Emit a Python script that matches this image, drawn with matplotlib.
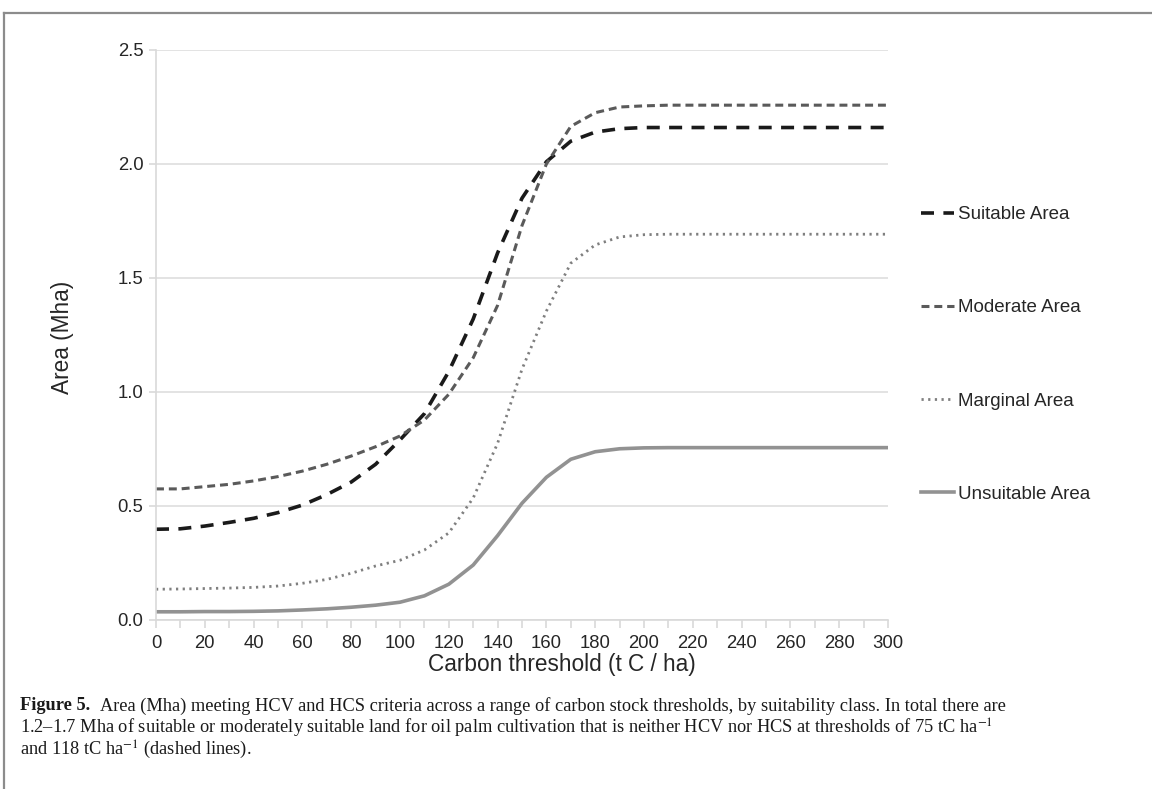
import numpy as np
import matplotlib
matplotlib.use("Agg")
import matplotlib.pyplot as plt
from matplotlib.lines import Line2D

plt.rcParams['font.family'] = ['Liberation Sans', 'DejaVu Sans']
plt.rcParams['mathtext.fontset'] = 'stix'

thresholds = list(range(0, 301, 10))
suitable = [0.398, 0.400, 0.412, 0.428, 0.446, 0.471, 0.504, 0.550, 0.605, 0.683,
            0.790, 0.905, 1.090, 1.320, 1.610, 1.850, 2.010, 2.100, 2.140, 2.155,
            2.160, 2.160, 2.160, 2.160, 2.160, 2.160, 2.160, 2.160, 2.160, 2.160, 2.160]
moderate = [0.575, 0.575, 0.585, 0.595, 0.610, 0.629, 0.653, 0.683, 0.719, 0.760,
            0.807, 0.877, 0.990, 1.150, 1.380, 1.730, 2.000, 2.165, 2.225, 2.250,
            2.255, 2.258, 2.258, 2.258, 2.258, 2.258, 2.258, 2.258, 2.258, 2.258, 2.258]
marginal = [0.135, 0.136, 0.138, 0.140, 0.143, 0.149, 0.161, 0.178, 0.205, 0.237,
            0.262, 0.307, 0.382, 0.535, 0.775, 1.100, 1.355, 1.565, 1.645, 1.680,
            1.690, 1.692, 1.692, 1.692, 1.692, 1.692, 1.692, 1.692, 1.692, 1.692, 1.692]
unsuitable = [0.036, 0.036, 0.037, 0.037, 0.038, 0.040, 0.044, 0.049, 0.056, 0.065,
              0.078, 0.106, 0.157, 0.241, 0.370, 0.512, 0.626, 0.705, 0.738, 0.751,
              0.755, 0.756, 0.756, 0.756, 0.756, 0.756, 0.756, 0.756, 0.756, 0.756, 0.756]
labels = ["Suitable Area", "Moderate Area", "Marginal Area", "Unsuitable Area"]
x_title = "Carbon threshold (t C / ha)"
y_title = "Area (Mha)"
cap_head = "Figure 5."
cap_lines = [
    "Area (Mha) meeting HCV and HCS criteria across a range of carbon stock thresholds, by suitability class. In total there are",
    "1.2\u20131.7 Mha of suitable or moderately suitable land for oil palm cultivation that is neither HCV nor HCS at thresholds of 75 tC ha$^{-1}$",
    "and 118 tC ha$^{-1}$ (dashed lines).",
]

W, H = 1152, 789
fig = plt.figure(figsize=(W / 100, H / 100), dpi=100)
ax = fig.add_axes([156 / W, 1 - 620 / H, (888 - 156) / W, (620 - 50) / H])

ax.plot(thresholds, suitable, color='#1a1a1a', lw=2.6, dashes=(3.6, 2.6), label=labels[0])
ax.plot(thresholds, moderate, color='#5a5a5a', lw=2.2, dashes=(2.6, 1.6), label=labels[1])
ax.plot(thresholds, marginal, color='#7f7f7f', lw=2.0, dashes=(0.8, 1.6), label=labels[2])
ax.plot(thresholds, unsuitable, color='#929292', lw=2.6, label=labels[3])

ax.set_xlim(0, 300)
ax.set_ylim(0, 2.5)
ax.set_xticks(range(0, 301, 20))
ax.set_xticks(range(0, 301, 10), minor=True)
ax.set_yticks([0, 0.5, 1.0, 1.5, 2.0, 2.5])
ax.set_yticklabels(["0.0", "0.5", "1.0", "1.5", "2.0", "2.5"])
ax.grid(axis='y', color='#dedede', lw=1.2)
ax.set_axisbelow(True)
for s in ['top', 'right']:
    ax.spines[s].set_visible(False)
for s in ['left', 'bottom']:
    ax.spines[s].set_color('#d9d9d9')
    ax.spines[s].set_linewidth(1.2)
ax.tick_params(axis='both', which='both', color='#d9d9d9', width=1.2, labelsize=13.3,
               labelcolor='#262626')
ax.tick_params(axis='x', which='both', length=6, pad=5)
ax.tick_params(axis='y', length=5, pad=4)

fig.text(562 / W, 1 - 665 / H, x_title, fontsize=16.3, color='#262626',
         ha='center', va='center')
fig.text(62 / W, 1 - 337 / H, y_title, fontsize=16.3, color='#262626',
         ha='center', va='center', rotation=90)

leg = ax.legend(loc='upper left', bbox_to_anchor=(921 / W, 1 - 206 / H),
                bbox_transform=fig.transFigure, frameon=False, fontsize=13.5,
                handlelength=1.75, handletextpad=0.2, labelspacing=4.06, borderpad=0,
                borderaxespad=0)
for t in leg.get_texts():
    t.set_color('#262626')

# frame lines
fig.add_artist(Line2D([4 / W, 1], [1 - 13 / H, 1 - 13 / H], transform=fig.transFigure,
                      color='#8c8c8c', lw=1.6))
fig.add_artist(Line2D([4 / W, 4 / W], [0, 1 - 13 / H], transform=fig.transFigure,
                      color='#8c8c8c', lw=1.6))

# caption
cap_font = ['Liberation Serif', 'DejaVu Serif']
renderer = fig.canvas.get_renderer()
size = 13.2
head = fig.text(20 / W, 1 - 706 / H, cap_head, fontsize=size, family=cap_font,
                fontweight='bold', va='center', ha='left', color='#1a1a1a')
hw = head.get_window_extent(renderer).width
fig.text((20 + hw + 10) / W, 1 - 706 / H, cap_lines[0], fontsize=size, family=cap_font,
         va='center', ha='left', color='#1a1a1a')
for i, yy in ((1, 728), (2, 750)):
    fig.text(20 / W, 1 - yy / H, cap_lines[i], fontsize=size, family=cap_font,
             va='center', ha='left', color='#1a1a1a')

fig.savefig("out.png", dpi=100)
